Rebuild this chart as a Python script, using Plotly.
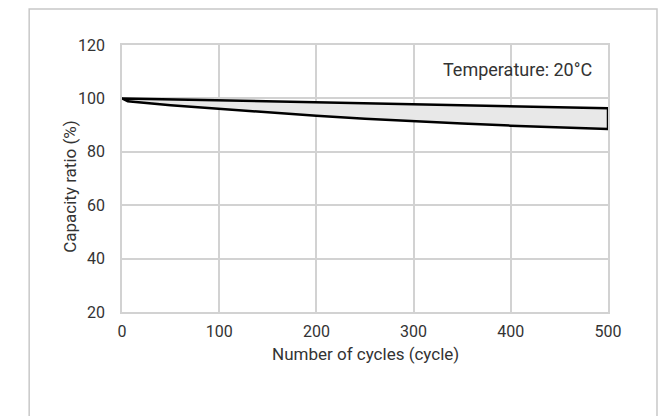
import plotly.graph_objects as go

# Data
cycles_upper = [0, 100, 200, 300, 400, 500]
capacity_upper = [100, 99.3, 98.6, 97.9, 97.1, 96.3]
cycles_lower = [0, 6, 50, 100, 150, 200, 250, 300, 350, 400, 450, 500]
capacity_lower = [100, 98.9, 97.4, 96.2, 94.8, 93.5, 92.4, 91.4, 90.6, 89.8, 89.1, 88.5]
x_ticks = [0, 100, 200, 300, 400, 500]
y_ticks = [20, 40, 60, 80, 100, 120]
annotation_text = "Temperature: 20°C"
x_title = "Number of cycles (cycle)"
y_title = "Capacity ratio (%)"

# polygon: upper line forward, then lower line backward
poly_x = cycles_upper + cycles_lower[::-1]
poly_y = capacity_upper + capacity_lower[::-1]

FONT = "Roboto"
TXT = "#333333"
grid = "#d2d2d2"

fig = go.Figure()
fig.add_trace(go.Scatter(
    x=poly_x, y=poly_y, mode="lines", fill="toself",
    fillcolor="#e8e8e8", line=dict(color="#000000", width=2.5),
    hoverinfo="skip", showlegend=False,
))

fig.update_layout(
    width=671, height=416,
    margin=dict(l=114, r=71, t=37, b=111.5, pad=0),
    paper_bgcolor="white", plot_bgcolor="white",
    font=dict(family=FONT, size=16, color=TXT),
    xaxis=dict(
        range=[0, 500], tickvals=x_ticks, showgrid=True, gridcolor=grid, gridwidth=1.5,
        showline=True, linecolor=grid, linewidth=1.5, mirror=True, zeroline=False,
        ticks="", tickfont=dict(size=16, color=TXT), ticklabelstandoff=4,
    ),
    yaxis=dict(
        range=[20, 120], tickvals=y_ticks, showgrid=True, gridcolor=grid, gridwidth=1.5,
        showline=True, linecolor=grid, linewidth=1.5, mirror=True, zeroline=False,
        ticks="", tickfont=dict(size=16, color=TXT), ticklabelstandoff=12,
    ),
    shapes=[dict(
        type="rect", xref="paper", yref="paper",
        x0=-0.191, x1=1.1008, y0=-0.45, y1=1.1346,
        line=dict(color="#c8c8c8", width=1.5), layer="below",
    )],
    annotations=[
        dict(text=annotation_text, xref="paper", yref="paper",
             x=0.971, y=0.910, xanchor="right", yanchor="middle", showarrow=False,
             font=dict(family=FONT, size=18, color=TXT)),
        dict(text=x_title, xref="paper", yref="paper",
             x=0.5, y=-0.159, xanchor="center", yanchor="middle", showarrow=False,
             font=dict(family=FONT, size=17, color=TXT)),
        dict(text=y_title, xref="paper", yref="paper", textangle=-90,
             x=-0.107, y=0.469, xanchor="center", yanchor="middle", showarrow=False,
             font=dict(family=FONT, size=17, color=TXT)),
    ],
)

fig.write_html("out.html")
